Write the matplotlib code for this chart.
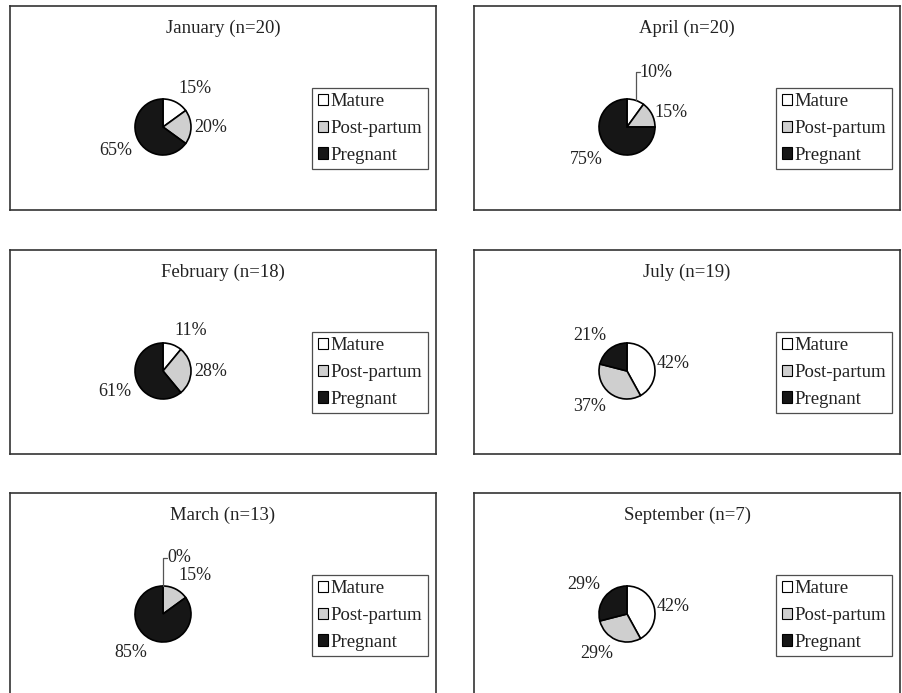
import numpy as np
import matplotlib
matplotlib.use("Agg")
import matplotlib.pyplot as plt
from matplotlib.patches import Patch

plt.rcParams['font.family'] = ['Liberation Serif', 'DejaVu Serif']

## Monthly reproductive status of females

months = ['January', 'February', 'March', 'April', 'July', 'September']
sample_n = [20, 18, 13, 20, 19, 7]
mature = [15, 11, 0, 10, 42, 42]
post_partum = [20, 28, 15, 15, 37, 29]
pregnant = [65, 61, 85, 75, 21, 29]

status = ['Mature', 'Post-partum', 'Pregnant']
colors = ['white', '#cfcfcf', '#161616']

W, H = 902, 693
BOX_W, BOX_H = 426, 204
col_left = [10, 474]
row_top = [6, 250, 493]
PIE_X, PIE_Y, PIE_R = 153, 83, 28


def place_labels(ax, wedges, vals):
    """Put the percent labels outside the pie, thin slices on a leader line."""
    for w, v in zip(wedges, vals):
        ang = np.deg2rad((w.theta1 + w.theta2) / 2)
        c, s = np.cos(ang), np.sin(ang)
        txt = f"{v}%"
        if v <= 10:
            ex, ey = PIE_X + PIE_R * c, PIE_Y + PIE_R * s
            ax.annotate(txt, xy=(ex, ey), xytext=(ex + 4, ey + 1.0 * PIE_R),
                        ha='left', va='center', fontsize=13, color='#222222',
                        arrowprops=dict(arrowstyle='-', color='#555555', lw=0.9,
                                        patchA=None, shrinkA=0, shrinkB=0,
                                        relpos=(0, 0.5),
                                        connectionstyle='angle,angleA=0,angleB=90,rad=0'))
            continue
        ha = 'left' if c > 0.1 else ('right' if c < -0.1 else 'center')
        va = 'bottom' if s > 0.6 else ('top' if s < -0.3 else 'center')
        gap = 3 + (3 if va != 'center' else 0)
        ax.text(PIE_X + (PIE_R + gap) * c, PIE_Y + (PIE_R + gap) * s, txt,
                ha=ha, va=va, fontsize=13, color='#222222')


fig = plt.figure(figsize=(W / 100, H / 100), dpi=100)
fig.patch.set_facecolor('white')

for i, month in enumerate(months):
    col, row = divmod(i, 3)
    x0, y0 = col_left[col], row_top[row]
    ax = fig.add_axes([x0 / W, 1 - (y0 + BOX_H) / H, BOX_W / W, BOX_H / H])

    vals = [mature[i], post_partum[i], pregnant[i]]
    wedges, _ = ax.pie(vals, colors=colors, startangle=90, counterclock=False,
                       radius=PIE_R, center=(PIE_X, PIE_Y),
                       wedgeprops=dict(edgecolor='black', linewidth=1.2))
    # pie() resets limits and frame, so put the pixel box back
    ax.set_xlim(0, BOX_W)
    ax.set_ylim(0, BOX_H)
    ax.set_aspect('auto')
    ax.set_frame_on(True)
    ax.set_xticks([])
    ax.set_yticks([])
    for sp in ax.spines.values():
        sp.set_color('#333333')
        sp.set_linewidth(1.2)

    place_labels(ax, wedges, vals)

    ax.text(BOX_W / 2, BOX_H - 22, f"{month} (n={sample_n[i]})",
            ha='center', va='center', fontsize=13.5, color='#222222')

    handles = [Patch(facecolor=fc, edgecolor='black', linewidth=0.8) for fc in colors]
    leg = ax.legend(handles, status, loc='center left', bbox_to_anchor=(0.709, 0.40),
                    fontsize=13.5, frameon=True, fancybox=False, borderaxespad=0,
                    handlelength=0.55, handleheight=0.55, handletextpad=0.15,
                    labelspacing=0.52, borderpad=0.3)
    leg.get_frame().set_edgecolor('#222222')
    leg.get_frame().set_linewidth(0.9)
    for t in leg.get_texts():
        t.set_color('#222222')

fig.savefig('out.png', dpi=100, facecolor='white')
